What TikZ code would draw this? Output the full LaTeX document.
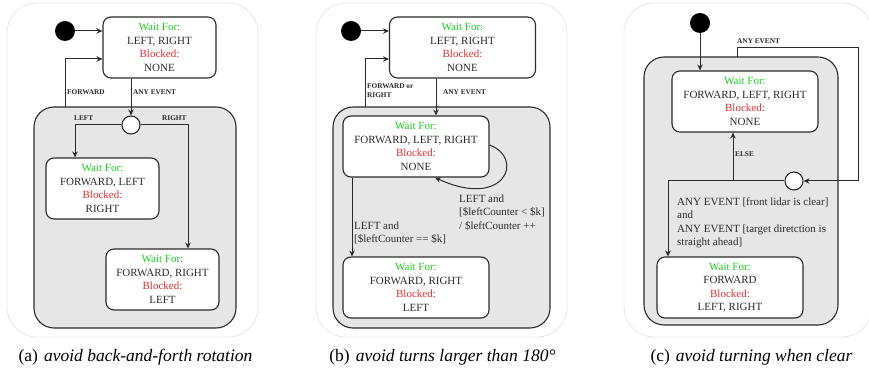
\documentclass[tikz,border=0pt]{standalone}
\usepackage{fontspec}
\setmainfont{Liberation Serif}
\usetikzlibrary{arrows.meta}

\definecolor{waitgreen}{HTML}{1FD11F}
\definecolor{blockred}{HTML}{E52E2E}
\definecolor{ink}{HTML}{2B2B2B}
\definecolor{groupfill}{HTML}{E6E6E6}
\definecolor{framegray}{HTML}{E6E6E6}

% four-line content of a state: what it waits for and what it blocks
\newcommand\statetext[2]{\textcolor{waitgreen}{Wait For:}\\#1\\\textcolor{blockred}{Blocked:}\\#2}

\tikzset{
  statebox/.style={draw=ink, line width=1.1pt, rounded corners=8pt, fill=white,
    minimum height=61pt, inner sep=0pt, align=center,
    font=\fontsize{11}{13.5}\selectfont, text=ink},
  narrow/.style={minimum width=113pt},
  wide/.style={minimum width=146pt},
  initdot/.style={circle, fill=black, minimum size=20pt, inner sep=0pt},
  choice/.style={circle, draw=ink, fill=white, line width=1.1pt, minimum size=18pt, inner sep=0pt},
  groupbox/.style={draw=ink, line width=1.1pt, fill=groupfill, rounded corners=20pt, inner sep=0pt},
  panelframe/.style={draw=framegray, line width=0.8pt, rounded corners=30pt},
  trans/.style={draw=ink, line width=1pt, -{Stealth[length=6pt,width=5.5pt,inset=2pt]}},
  evlabel/.style={font=\bfseries\fontsize{7.3}{9}\selectfont, text=ink, inner sep=0pt, anchor=west, align=left},
  guard/.style={font=\fontsize{11}{13.5}\selectfont, text=ink, inner sep=0pt, anchor=west, align=left},
  subcap/.style={font=\fontsize{17.5}{20}\selectfont, text=black, inner sep=0pt}
}

\begin{document}
\begin{tikzpicture}[x=1pt, y=-1pt]
\useasboundingbox (0,0) rectangle (869,371);
\clip (0,0) rectangle (869,371);

% ---------- panel frames ----------
\draw[panelframe] (7,3) rectangle (258,337);
\draw[panelframe] (316,3) rectangle (567,337);
\draw[panelframe] (624,3) rectangle (872,337);

% ---------- (a) ----------
\node[groupbox, minimum width=202pt, minimum height=221pt] (gA) at (135,217.5) {};
\node[initdot] (iA) at (65,31) {};
\node[statebox, narrow] (sA1) at (159.5,47.5) {\statetext{LEFT, RIGHT}{NONE}};
\node[choice] (cA) at (131,125) {};
\node[statebox, narrow] (sA2) at (102.5,188.5) {\statetext{FORWARD, LEFT}{RIGHT}};
\node[statebox, narrow] (sA3) at (162.5,279.5) {\statetext{FORWARD, RIGHT}{LEFT}};
\coordinate (fwdA) at (65,107);

\draw[trans] (iA) -- (iA -| sA1.west);
\draw[trans] (fwdA) |- ([yshift=-11.5pt]sA1.west);
\draw[trans] (sA1.south -| cA) -- (cA);
\draw[trans] (cA) -| ([xshift=-27.5pt]sA2.north);
\draw[trans] (cA) -| ([xshift=25.5pt]sA3.north);

\node[evlabel] (lfA) at (67,92) {FORWARD};
\node[evlabel] (laA) at (133,92) {ANY EVENT};
\node[evlabel] (llA) at (74,118) {LEFT};
\node[evlabel] (lrA) at (162,118) {RIGHT};

\node[subcap] (capA) at (135.5,357) {(a)\hspace{6pt}\textit{avoid back-and-forth rotation}};

% ---------- (b) ----------
\node[groupbox, minimum width=217pt, minimum height=221pt] (gB) at (441.5,217.5) {};
\node[initdot] (iB) at (351,31) {};
\node[statebox, wide] (sB1) at (462.5,47.5) {\statetext{LEFT, RIGHT}{NONE}};
\node[statebox, wide] (sB2) at (416,146.5) {\statetext{FORWARD, LEFT, RIGHT}{NONE}};
\node[statebox, wide] (sB3) at (416,287.5) {\statetext{FORWARD, RIGHT}{LEFT}};
\coordinate (fwdB) at (365,107);

\draw[trans] (iB) -- (iB -| sB1.west);
\draw[trans] (fwdB) |- ([yshift=-11.5pt]sB1.west);
\draw[trans] ([xshift=-26.5pt]sB1.south) -- ([xshift=20pt]sB2.north);
\draw[trans] ([yshift=1.5pt]sB2.east) .. controls (525,158) and (505,210) .. ([xshift=19pt]sB2.south);
\draw[trans] ([xshift=-64pt]sB2.south) -- ([xshift=-64pt]sB3.north);

\node[evlabel] (lfB) at (367,90.5) {FORWARD or\\RIGHT};
\node[evlabel] (laB) at (443,92) {ANY EVENT};
\node[guard] (gdB1) at (459,212.3) {LEFT and\\{[}\$leftCounter < \$k]\\/ \$leftCounter ++};
\node[guard] (gdB2) at (354,232.8) {LEFT and\\{[}\$leftCounter == \$k]};

\node[subcap] (capB) at (442.5,357) {(b)\hspace{6pt}\textit{avoid turns larger than 180°}};

% ---------- (c) ----------
\node[groupbox, minimum width=194pt, minimum height=268pt] (gC) at (741,191) {};
\node[initdot] (iC) at (700,23) {};
\node[statebox, wide] (sC1) at (745,101.5) {\statetext{FORWARD, LEFT, RIGHT}{NONE}};
\node[statebox, wide] (sC2) at (730,287.5) {\statetext{FORWARD}{LEFT, RIGHT}};
\node[choice] (cC) at (794,181) {};
\coordinate (anyC) at (737,57);
\coordinate (loopC) at (858,48);
\coordinate (elseC) at (733,181);

\draw[trans] (iC) -- (iC |- sC1.north);
\draw[trans] (anyC) -- (anyC |- loopC) -- (loopC) |- (cC);
\draw[trans] (cC) -| ([xshift=-62pt]sC2.north);
\draw[trans] (elseC) -- (elseC |- sC1.south);

\node[evlabel] (laC) at (737,41) {ANY EVENT};
\node[evlabel] (leC) at (735,154) {ELSE};
\node[guard] (gdC) at (677,222.8) {ANY EVENT [front lidar is clear]\\and\\ANY EVENT [target diretction is\\straight ahead]};

\node[subcap] (capC) at (751.5,357) {(c)\hspace{6pt}\textit{avoid turning when clear}};
\end{tikzpicture}
\end{document}
